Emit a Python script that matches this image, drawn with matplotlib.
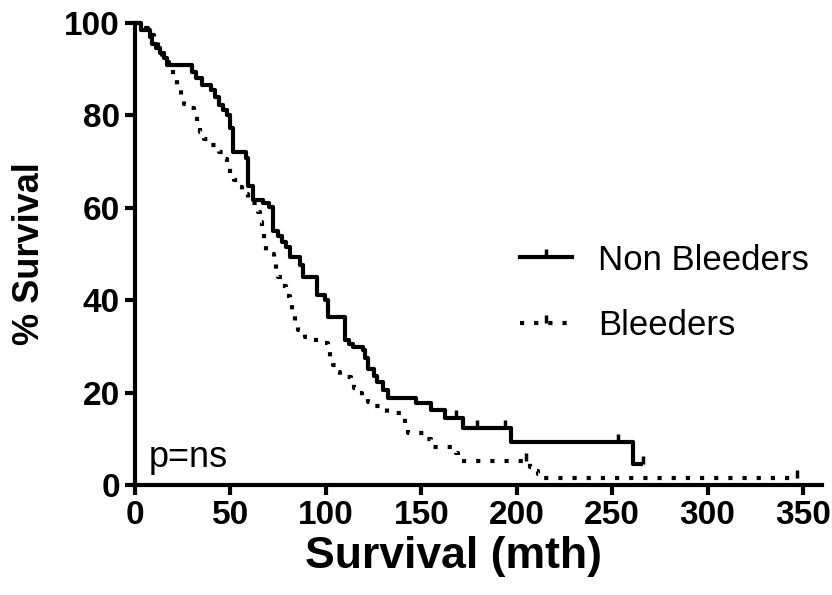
import matplotlib
matplotlib.use("Agg")
import matplotlib.pyplot as plt
from matplotlib.lines import Line2D

plt.rcParams['font.family'] = ['Liberation Sans', 'DejaVu Sans']

# Non Bleeders: step times (mth) and survival (%) after each step
nb_time = [0, 3, 8, 9, 11, 13, 15, 17, 30, 32, 35, 40, 42, 44, 46, 48, 50, 51.4,
           58, 59, 62, 67, 70, 72.5, 75, 77, 79, 81, 86.6, 88, 95.5, 99.7, 101.3,
           110.2, 112, 114.4, 119.6, 120.7, 122, 125, 127, 130, 132.7, 147, 155,
           162.6, 172, 197, 261, 266]
nb_surv = [100, 98.5, 97, 95.5, 94.5, 93.5, 92.5, 91, 89.5, 88, 86.6, 85.5, 84,
           82.3, 81.2, 80, 77.3, 72.1, 70.8, 64.8, 61.7, 61, 60.2, 55, 54, 52.5,
           51.5, 49.4, 47.6, 45, 41.1, 40, 36.4, 31.4, 30.5, 29.9, 29.2, 27.5, 25,
           23.5, 22.3, 20.5, 18.8, 17.7, 16.2, 14.5, 12.3, 9.3, 4.6, 4.6]
nb_cens_t = [168, 179, 194, 253, 266]
nb_cens_s = [14.5, 12.3, 12.3, 9.3, 4.6]

# Bleeders
bl_time = [0, 4, 7, 10, 12, 14, 16, 18, 20, 22, 24, 25.5, 29, 31, 32.5, 34, 36,
           38, 44, 46, 48, 50, 52, 54, 56, 59, 61, 64.5, 65.5, 66.5, 67.5, 68.5,
           71, 73, 74, 75, 77, 79, 81, 82.5, 84, 85.5, 89, 95, 101, 102, 104, 106,
           107.5, 113, 115, 117, 119, 122, 124, 132, 140, 141.5, 143, 153, 155,
           156, 168, 169, 170.5, 207, 209, 211, 213, 347]
bl_surv = [100, 99, 97.5, 96, 94.5, 93, 91.5, 90, 88, 86, 84, 82.5, 81.5, 80,
           78, 76.5, 75, 73.5, 72, 70.5, 69, 67.5, 66, 64.5, 63, 62, 61, 59, 57,
           55, 52.5, 50.5, 50, 48, 46, 45, 43, 41, 39.5, 37.5, 35.5, 33.5, 32,
           30.7, 29, 27.5, 26, 24.5, 23.4, 22.5, 21, 20, 19, 18, 17, 15.6, 14.5,
           13, 11.2, 10, 9, 8.2, 7, 6.2, 5.2, 4, 3, 2.3, 1.6, 1.6]
bl_cens_t = [205, 347]
bl_cens_s = [5.2, 1.6]

fig = plt.figure(figsize=(8.32, 5.95), dpi=100)
ax = fig.add_axes([0.1623, 0.1849, 0.8257, 0.7764])

ax.plot(nb_time, nb_surv, drawstyle='steps-post', color='black', lw=3,
        solid_capstyle='butt', clip_on=False)
ax.plot(nb_cens_t, nb_cens_s, ls='none', marker=2, ms=6, mew=2.5,
        color='black', clip_on=False)
ax.plot(bl_time, bl_surv, drawstyle='steps-post', color='black', lw=3,
        ls=(0, (1, 2.4)), clip_on=False)
ax.plot(bl_cens_t, bl_cens_s, ls='none', marker=2, ms=6, mew=2.5,
        color='black', clip_on=False)

ax.set_xlim(0, 360)
ax.set_ylim(0, 100)
ax.set_xticks(range(0, 351, 50))
ax.set_yticks(range(0, 101, 20))
for s in ['top', 'right']:
    ax.spines[s].set_visible(False)
for s in ['left', 'bottom']:
    ax.spines[s].set_linewidth(3)
ax.tick_params(width=3, length=7, pad=4, labelsize=24)
for lab in ax.get_xticklabels() + ax.get_yticklabels():
    lab.set_fontweight('bold')

ax.set_xlabel('Survival (mth)', fontsize=32, fontweight='bold', labelpad=2)
ax.xaxis.set_label_coords(0.463, -0.11)
ax.set_ylabel('% Survival', fontsize=26, fontweight='bold', labelpad=12)

ax.text(7, 4, 'p=ns', fontsize=26)

handles = [
    Line2D([0], [0], color='black', lw=3, marker=2, ms=6, mew=2.5),
    Line2D([0], [0], color='black', lw=3, ls=(0, (1, 2.4)), marker=2, ms=6, mew=2.5),
]
fig.legend(handles, ['Non Bleeders', 'Bleeders'], loc='center left',
           bbox_to_anchor=(520 / 832, 1 - 293 / 595), frameon=False,
           fontsize=25, handlelength=1.5, handletextpad=0.75, borderpad=0,
           borderaxespad=0, labelspacing=0.95, numpoints=1)

fig.savefig('out.png', dpi=100)
